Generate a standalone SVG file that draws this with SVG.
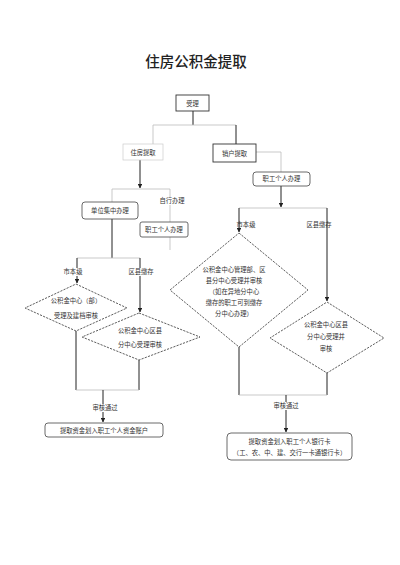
<svg xmlns="http://www.w3.org/2000/svg" width="400" height="565" viewBox="0 0 400 565">
<style>
text{font-family:"Noto Sans CJK SC","Liberation Sans",sans-serif;fill:#333;text-anchor:middle}
.t{font-size:6.3px}
.title{font-size:14.5px;font-family:"Noto Sans CJK SC",serif;fill:#222;font-weight:500}
.box{fill:#fff;stroke:#333;stroke-width:0.9}
.rbox{fill:#fff;stroke:#444;stroke-width:0.8}
.faintbox{fill:#fff;stroke:#ccc;stroke-width:0.7}
.dia{fill:#fff;stroke:#333;stroke-width:0.8;stroke-dasharray:2.2 1.2}
.ln{fill:none;stroke:#222;stroke-width:1}
.fl{fill:none;stroke:#bbb;stroke-width:0.8}
.lbg{fill:#fff}
</style>
<defs>
<marker id="ah" viewBox="0 0 6 6" refX="5.5" refY="3" markerWidth="4.5" markerHeight="4.5" orient="auto">
<path d="M0,0 L6,3 L0,6 z" fill="#222"/>
</marker>
</defs>
<rect width="400" height="565" fill="#fff"/>
<text class="title" x="196" y="67">住房公积金提取</text>

<g id="connectors">
<path class="ln" d="M193,111 V125"/>
<path class="fl" d="M153,125 H236"/>
<path class="fl" d="M153,125 V144"/>
<path class="ln" d="M236,125 V144"/>
<path class="fl" d="M256,152 H281 V172"/>
<path class="ln" d="M140,160 V188" marker-end="url(#ah)"/>
<path class="fl" d="M112,189 H170"/>
<path class="fl" d="M112,189 V202"/>
<path class="fl" d="M170,189 V222"/>
<path class="ln" d="M112,219 V258"/>
<path class="fl" d="M170,237 V250"/>
<path class="fl" d="M77,258 H140"/>
<path class="ln" d="M77,258 V283" marker-end="url(#ah)"/>
<path class="ln" d="M140,258 V312" marker-end="url(#ah)"/>
<path class="ln" d="M76,331 V390"/>
<path class="ln" d="M139,360 V390"/>
<path class="fl" d="M76,390 H139"/>
<path class="ln" d="M103,390 V422" marker-end="url(#ah)"/>
<path class="ln" d="M281,186 V207" marker-end="url(#ah)"/>
<path class="fl" d="M239,208 H327"/>
<path class="ln" d="M239,208 V232" marker-end="url(#ah)"/>
<path class="ln" d="M327,208 V301" marker-end="url(#ah)"/>
<path class="ln" d="M239,347 V395"/>
<path class="ln" d="M327,372 V395"/>
<path class="fl" d="M239,395 H327"/>
<path class="ln" d="M286,395 V432" marker-end="url(#ah)"/>
<rect class="lbg" x="158" y="197" width="28" height="8"/>
<text class="t" x="172" y="203">自行办理</text>
<rect class="lbg" x="65" y="268" width="18" height="8"/>
<text class="t" x="73" y="274">市本级</text>
<rect class="lbg" x="129" y="268" width="24" height="8"/>
<text class="t" x="141" y="274">区县缴存</text>
<text class="t" x="246" y="227">市本级</text>
<text class="t" x="319" y="227">区县缴存</text>
<rect class="lbg" x="92" y="404" width="26" height="8"/>
<text class="t" x="105" y="410">审核通过</text>
<rect class="lbg" x="273" y="402" width="26" height="8"/>
<text class="t" x="286" y="408">审核通过</text>
</g>

<g id="n_accept"><rect class="box" x="176" y="95" width="33" height="16"/><text class="t" x="192.5" y="105.5">受理</text></g>
<g id="n_part"><rect class="faintbox" x="123" y="144" width="40" height="16"/><text class="t" x="143" y="154.5">住房提取</text></g>
<g id="n_close"><rect class="box" x="213" y="144" width="43" height="18"/><text class="t" x="234.5" y="155.5">销户提取</text></g>
<g id="n_unit"><rect class="rbox" x="82" y="202" width="56" height="17" rx="3"/><text class="t" x="110" y="212.5">单位集中办理</text></g>
<g id="n_self1"><rect class="rbox" x="140" y="222" width="48" height="15" rx="2"/><text class="t" x="164" y="231.5">职工个人办理</text></g>
<g id="n_self2"><rect class="rbox" x="253" y="172" width="57" height="14" rx="3"/><text class="t" x="281.5" y="181">职工个人办理</text></g>
<g id="d1"><path class="dia" d="M76,284 L127,308 L76,331 L25,308 Z"/><text class="t" x="76" y="303">公积金中心（部）</text><text class="t" x="76" y="318">受理及建档审核</text></g>
<g id="d2"><path class="dia" d="M139,313 L200,337 L139,360 L82,337 Z"/><text class="t" x="140" y="333">公积金中心区县</text><text class="t" x="140" y="347">分中心受理审核</text></g>
<g id="d3"><path class="dia" d="M239,233 L308,290 L239,347 L170,290 Z"/>
<text class="t" x="234" y="272">公积金中心管理部、区</text>
<text class="t" x="234" y="283">县分中心受理并审核</text>
<text class="t" x="234" y="294">（如在异地分中心</text>
<text class="t" x="234" y="305">缴存的职工可到缴存</text>
<text class="t" x="234" y="316">分中心办理）</text></g>
<g id="d4"><path class="dia" d="M327,302 L384,338 L327,373 L270,338 Z"/>
<text class="t" x="326" y="327">公积金中心区县</text>
<text class="t" x="326" y="339">分中心受理并</text>
<text class="t" x="326" y="351">审核</text></g>
<g id="n_out1"><rect class="rbox" x="45" y="423" width="118" height="14" rx="3"/><text class="t" x="104" y="432.5">提取资金划入职工个人资金账户</text></g>
<g id="n_out2"><rect class="rbox" x="227" y="433" width="125" height="27" rx="4"/><text class="t" x="289.5" y="444">提取资金划入职工个人银行卡</text><text class="t" x="289.5" y="455">（工、农、中、建、交行一卡通银行卡）</text></g>
</svg>
